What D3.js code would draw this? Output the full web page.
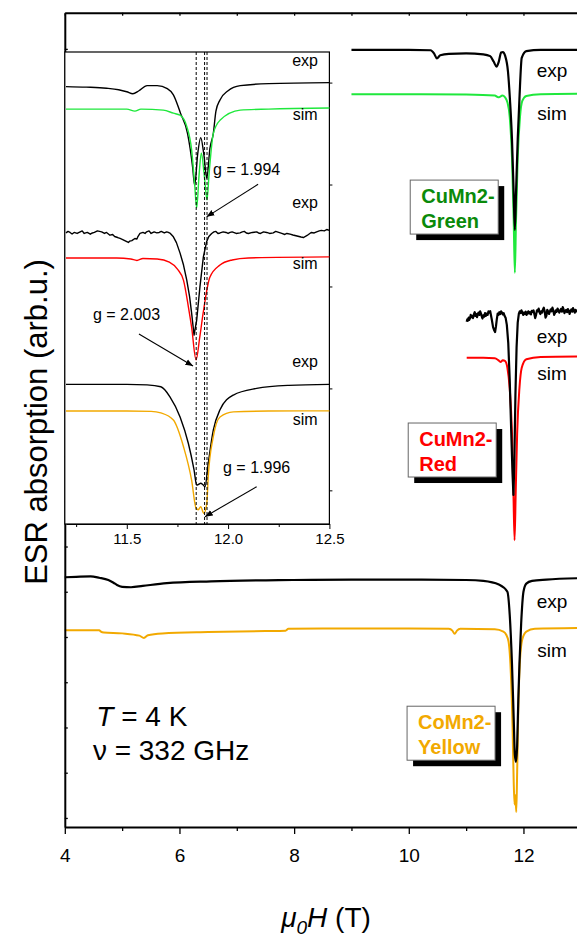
<!DOCTYPE html>
<html lang="en">
  <head>
    <meta charset="utf-8">
    <title>ESR spectra</title>
    <style>
      body { margin: 0; background: #fff; }
      svg text { font-family: Arial, "Liberation Sans", sans-serif; }
    </style>
  </head>
  <body>
    <div id="graph-div"></div>
    <script src="https://d3js.org/d3.v7.min.js"></script>
    <script>

    // ---- main panel data: [field (T), absorption (arb.u.)] ----
    var greenExp = [[9.0,16.98],[10.0,16.98],[10.38,16.97],[10.44,16.9],[10.49,16.79],[10.55,16.86],[10.7,16.89],[11.0,16.9],[11.3,16.88],[11.42,16.84],[11.48,16.72],[11.53,16.61],[11.57,16.72],[11.61,16.92],[11.64,16.93],[11.68,16.85],[11.73,16.5],[11.765,15.87],[11.8,15.0],[11.83,13.8],[11.85,13.0],[11.87,13.8],[11.9,15.0],[11.93,15.9],[11.97,16.8],[12.05,16.95],[12.3,16.98],[13.0,16.98]];
    var greenSim = [[9.0,16.0],[10.0,16.0],[11.0,15.99],[11.5,15.97],[11.56,15.93],[11.59,15.94],[11.63,15.97],[11.68,15.93],[11.72,15.82],[11.76,15.5],[11.8,14.6],[11.83,13.2],[11.85,12.05],[11.87,13.2],[11.9,14.6],[11.94,15.5],[11.98,15.85],[12.05,15.96],[12.3,16.0],[13.0,16.01]];
    var redExp = [[11.01,10.97],[11.02,11.02],[11.03,10.99],[11.045,11.06],[11.055,11.01],[11.07,11.05],[11.08,11.12],[11.095,11.07],[11.11,11.1],[11.12,11.05],[11.135,11.13],[11.15,11.18],[11.16,11.1],[11.175,11.14],[11.19,11.07],[11.2,11.12],[11.215,11.17],[11.23,11.12],[11.245,11.2],[11.26,11.15],[11.27,11.1],[11.285,11.04],[11.3,11.11],[11.315,11.08],[11.33,11.16],[11.345,11.1],[11.36,11.15],[11.375,11.12],[11.39,11.2],[11.405,11.17],[11.42,11.2],[11.435,11.1],[11.45,11.0],[11.47,10.85],[11.49,10.78],[11.505,10.74],[11.52,10.86],[11.535,11.02],[11.55,11.15],[11.565,11.12],[11.58,11.18],[11.595,11.14],[11.61,11.2],[11.625,11.17],[11.64,11.13],[11.655,11.16],[11.67,11.1],[11.69,11.05],[11.71,10.9],[11.735,10.5],[11.76,9.7],[11.79,8.4],[11.81,7.6],[11.825,7.14],[11.84,7.8],[11.86,9.35],[11.88,10.4],[11.9,10.95],[11.92,11.15],[11.935,11.2],[11.95,11.16],[11.965,11.22],[11.98,11.18],[11.995,11.12],[12.01,11.17],[12.025,11.14],[12.04,11.19],[12.055,11.12],[12.07,11.16],[12.085,11.2],[12.1,11.15],[12.115,11.18],[12.13,11.13],[12.145,11.21],[12.16,11.19],[12.175,11.22],[12.19,11.14],[12.205,11.05],[12.22,11.12],[12.235,11.22],[12.25,11.2],[12.265,11.26],[12.28,11.18],[12.295,11.14],[12.31,11.2],[12.325,11.17],[12.34,11.24],[12.355,11.28],[12.37,11.2],[12.385,11.06],[12.4,11.1],[12.415,11.23],[12.43,11.2],[12.445,11.14],[12.46,11.19],[12.475,11.24],[12.49,11.2],[12.505,11.28],[12.52,11.22],[12.535,11.12],[12.55,11.16],[12.565,11.22],[12.58,11.19],[12.595,11.26],[12.61,11.22],[12.625,11.17],[12.64,11.21],[12.655,11.25],[12.67,11.19],[12.685,11.29],[12.7,11.24],[12.715,11.16],[12.73,11.2],[12.745,11.23],[12.76,11.18],[12.775,11.25],[12.79,11.21],[12.805,11.14],[12.82,11.2],[12.835,11.24],[12.85,11.19],[12.865,11.27],[12.88,11.22],[12.895,11.17],[12.91,11.23],[12.925,11.2],[12.94,11.22]];
    var redSim = [[11.01,10.17],[11.3,10.17],[11.5,10.16],[11.56,10.12],[11.6,10.08],[11.64,10.12],[11.68,10.1],[11.72,9.95],[11.76,9.5],[11.8,8.5],[11.825,7.2],[11.845,6.14],[11.865,7.2],[11.89,8.5],[11.93,9.5],[11.97,9.95],[12.05,10.14],[12.3,10.19],[13.0,10.2]];
    var yellowExp = [[4.0,5.32],[4.2,5.33],[4.45,5.34],[4.6,5.31],[4.76,5.26],[4.85,5.2],[4.91,5.15],[5.0,5.11],[5.155,5.1],[5.36,5.13],[5.78,5.19],[6.55,5.23],[7.98,5.26],[9.0,5.27],[10.0,5.27],[11.0,5.26],[11.3,5.24],[11.57,5.16],[11.72,5.0],[11.76,4.5],[11.8,3.4],[11.83,2.2],[11.85,1.4],[11.87,1.24],[11.89,1.6],[11.91,2.6],[11.93,3.4],[11.96,4.3],[12.0,5.0],[12.05,5.18],[12.15,5.24],[12.4,5.27],[13.0,5.3]];
    var yellowSim = [[4.0,4.15],[4.6,4.15],[4.63,4.12],[4.68,4.1],[5.0,4.08],[5.3,4.03],[5.38,3.98],[5.45,4.04],[5.7,4.08],[6.5,4.11],[7.5,4.13],[7.85,4.14],[7.9,4.18],[8.5,4.19],[10.0,4.19],[10.7,4.18],[10.76,4.14],[10.8,4.07],[10.84,4.14],[10.9,4.18],[11.5,4.17],[11.65,4.12],[11.7,4.05],[11.74,3.9],[11.78,3.2],[11.81,2.0],[11.83,0.8],[11.845,0.3],[11.86,0.5],[11.875,0.13],[11.89,1.0],[11.91,2.4],[11.94,3.5],[11.98,3.95],[12.05,4.12],[12.2,4.18],[13.0,4.2]];

    // ---- inset data ----
    var insetGreenExp = [[11.2,3.96],[11.3,3.955],[11.4,3.945],[11.46,3.93],[11.5,3.91],[11.53,3.89],[11.56,3.92],[11.6,3.97],[11.65,3.97],[11.7,3.94],[11.73,3.88],[11.765,3.7],[11.8,3.5],[11.825,3.17],[11.835,2.99],[11.85,3.3],[11.865,3.46],[11.88,3.3],[11.895,3.06],[11.91,3.35],[11.927,3.5],[11.94,3.72],[11.96,3.83],[12.0,3.92],[12.06,3.97],[12.2,3.99],[12.5,4.0]];
    var insetGreenSim = [[11.2,3.74],[11.5,3.74],[11.54,3.72],[11.57,3.74],[11.68,3.73],[11.73,3.7],[11.763,3.68],[11.796,3.57],[11.82,3.34],[11.835,3.0],[11.845,2.77],[11.857,3.1],[11.868,3.31],[11.882,3.1],[11.896,2.85],[11.906,3.1],[11.927,3.5],[11.96,3.63],[12.06,3.73],[12.2,3.74],[12.5,3.75]];
    var insetRedExp = [[11.2,2.526],[11.21,2.54],[11.22,2.53],[11.23,2.515],[11.24,2.53],[11.255,2.52],[11.27,2.536],[11.28,2.545],[11.29,2.52],[11.305,2.53],[11.32,2.513],[11.33,2.525],[11.34,2.53],[11.355,2.545],[11.376,2.536],[11.39,2.52],[11.4,2.53],[11.417,2.503],[11.43,2.51],[11.44,2.49],[11.455,2.48],[11.467,2.471],[11.48,2.46],[11.49,2.45],[11.5,2.44],[11.508,2.432],[11.515,2.445],[11.525,2.45],[11.54,2.471],[11.55,2.465],[11.555,2.49],[11.565,2.52],[11.58,2.53],[11.59,2.52],[11.598,2.536],[11.61,2.545],[11.62,2.52],[11.635,2.535],[11.648,2.526],[11.66,2.53],[11.67,2.54],[11.685,2.525],[11.697,2.536],[11.705,2.53],[11.715,2.52],[11.73,2.487],[11.745,2.43],[11.763,2.327],[11.78,2.21],[11.796,2.062],[11.81,1.9],[11.82,1.739],[11.832,1.523],[11.845,1.67],[11.861,1.996],[11.878,2.291],[11.894,2.438],[11.905,2.49],[11.919,2.52],[11.93,2.535],[11.94,2.54],[11.95,2.52],[11.96,2.525],[11.976,2.536],[11.99,2.53],[12.0,2.52],[12.01,2.53],[12.02,2.535],[12.04,2.52],[12.059,2.526],[12.07,2.535],[12.08,2.54],[12.09,2.525],[12.1,2.52],[12.12,2.53],[12.141,2.536],[12.15,2.525],[12.16,2.52],[12.175,2.535],[12.19,2.53],[12.205,2.52],[12.223,2.526],[12.235,2.54],[12.25,2.53],[12.265,2.52],[12.28,2.51],[12.29,2.52],[12.306,2.513],[12.32,2.505],[12.33,2.5],[12.34,2.495],[12.35,2.49],[12.36,2.485],[12.372,2.48],[12.38,2.49],[12.39,2.5],[12.4,2.515],[12.41,2.53],[12.425,2.525],[12.437,2.536],[12.45,2.545],[12.46,2.55],[12.475,2.545],[12.487,2.559],[12.5,2.55]];
    var insetRedSim = [[11.2,2.28],[11.45,2.28],[11.52,2.27],[11.55,2.255],[11.58,2.275],[11.65,2.27],[11.71,2.24],[11.75,2.17],[11.78,2.06],[11.804,1.8],[11.82,1.6],[11.842,1.28],[11.86,1.5],[11.877,1.74],[11.91,2.09],[11.96,2.21],[12.02,2.26],[12.1,2.28],[12.5,2.29]];
    var insetYellowExp = [[11.2,1.04],[11.5,1.04],[11.6,1.035],[11.668,1.016],[11.713,0.918],[11.763,0.72],[11.804,0.46],[11.832,0.2],[11.845,0.052],[11.855,0.06],[11.865,0.07],[11.876,0.055],[11.886,0.036],[11.902,0.265],[11.927,0.59],[11.96,0.79],[12.026,0.935],[12.141,1.0],[12.3,1.03],[12.5,1.04]];
    var insetYellowSim = [[11.2,0.778],[11.5,0.778],[11.62,0.775],[11.668,0.76],[11.73,0.69],[11.78,0.428],[11.82,0.1],[11.842,-0.176],[11.853,-0.19],[11.865,-0.16],[11.88,-0.225],[11.895,-0.127],[11.902,0.134],[11.927,0.526],[11.96,0.72],[12.026,0.77],[12.2,0.778],[12.5,0.78]];

    // resonance fields for the g values (T)
    var gLines = [11.8426, 11.884, 11.896];

    // tick values
    var xMajor = [4, 6, 8, 10, 12];
    var xMinor = [5, 7, 9, 11];
    var yTicks = d3.range(0, 18);
    var insetXMajor = [11.5, 12.0, 12.5];
    var insetXMinor = [11.25, 11.75, 12.25];
    var insetYTicks = [0, 1, 2, 3, 4];

    var W = 577, H = 939;

    var svg = d3.select("#graph-div")
      .append("svg")
        .attr("width", W)
        .attr("height", H);

    var x = d3.scaleLinear().domain([4, 12.934]).range([64.8, 577]);
    var y = d3.scaleLinear().domain([-0.2, 17.8]).range([827, 12.7]);

    var line = d3.line()
      .x(function(d) { return x(d[0]); })
      .y(function(d) { return y(d[1]); })
      .curve(d3.curveMonotoneX);
    var lineRough = d3.line()
      .x(function(d) { return x(d[0]); })
      .y(function(d) { return y(d[1]); });

    var GREEN = "#1fe83c", RED = "#ff0000", ORANGE = "#f2a900";

    // main curves
    function curve(data, gen, color, w) {
      svg.append("path")
        .datum(data)
        .attr("d", gen)
        .attr("fill", "none")
        .attr("stroke", color)
        .attr("stroke-width", w)
        .attr("stroke-linejoin", "round");
    }
    curve(greenSim, line, GREEN, 2);
    curve(greenExp, line, "#000", 2.2);
    curve(redSim, line, RED, 2);
    curve(redExp, lineRough, "#000", 2.2);
    curve(yellowSim, line, ORANGE, 2);
    curve(yellowExp, line, "#000", 2.2);

    // axes
    var bottom = svg.append("g")
      .attr("transform", "translate(0,827)")
      .call(d3.axisBottom(x).tickValues(xMajor).tickSize(7).tickSizeOuter(0).tickPadding(15));
    svg.append("g")
      .attr("transform", "translate(0,827)")
      .call(d3.axisBottom(x).tickValues(xMinor).tickSize(4).tickFormat("").tickSizeOuter(0))
      .select(".domain").remove();
    bottom.selectAll("text").attr("font-size", 19).attr("font-family", "Arial, 'Liberation Sans', sans-serif");

    svg.append("g")
      .attr("transform", "translate(0,12.7)")
      .call(d3.axisTop(x).tickValues(xMajor.concat(xMinor)).tickSize(-3).tickFormat("").tickSizeOuter(0));

    svg.append("g")
      .attr("transform", "translate(64.8,0)")
      .call(d3.axisLeft(y).tickValues(yTicks).tickSize(-3).tickFormat("").tickSizeOuter(0));

    svg.selectAll(".domain").attr("stroke-width", 2);
    svg.selectAll(".tick line").attr("stroke-width", 1.3);

    // axis titles
    var xt = svg.append("text")
      .attr("x", 326).attr("y", 927)
      .attr("text-anchor", "middle")
      .attr("font-size", 28);
    xt.append("tspan").attr("font-style", "italic").text("\u03bc");
    xt.append("tspan").attr("font-style", "italic").attr("font-size", 19).attr("dy", 7).text("0");
    xt.append("tspan").attr("font-style", "italic").attr("dy", -7).text("H");
    xt.append("tspan").text(" (T)");

    svg.append("text")
      .attr("transform", "translate(47,422) rotate(-90)")
      .attr("text-anchor", "middle")
      .attr("font-size", 31)
      .text("ESR absorption (arb.u.)");

    // exp / sim tags next to main curves
    var mainTags = [["exp", 16.38], ["sim", 15.43], ["exp", 10.5], ["sim", 9.68], ["exp", 4.64], ["sim", 3.56]];
    svg.selectAll(".mtag")
      .data(mainTags)
      .enter().append("text")
        .attr("class", "mtag")
        .attr("x", x(12.5))
        .attr("y", function(d) { return y(d[1]); })
        .attr("text-anchor", "middle")
        .attr("font-size", 19)
        .text(function(d) { return d[0]; });

    // sample boxes
    var samples = [
      {lines: ["CuMn2-", "Green"], color: "#0a8a0a", fx: 10.025, fy: 14.10},
      {lines: ["CuMn2-", "Red"], color: RED, fx: 9.99, fy: 8.73},
      {lines: ["CoMn2-", "Yellow"], color: ORANGE, fx: 9.97, fy: 2.47}
    ];
    samples.forEach(function(s) {
      var bx = x(s.fx), by = y(s.fy), bw = 88, bh = 54;
      svg.append("rect").attr("x", bx + 6).attr("y", by + 6).attr("width", bw).attr("height", bh).attr("fill", "#000");
      svg.append("rect").attr("x", bx).attr("y", by).attr("width", bw).attr("height", bh)
        .attr("fill", "#fff").attr("stroke", "#666").attr("stroke-width", 1);
      s.lines.forEach(function(t, i) {
        svg.append("text")
          .attr("x", bx + 11).attr("y", by + 23 + i * 25)
          .attr("font-size", 20).attr("font-weight", "bold")
          .attr("fill", s.color)
          .text(t);
      });
    });

    // conditions
    var t1 = svg.append("text").attr("x", x(4.55)).attr("y", y(2.03)).attr("font-size", 28);
    t1.append("tspan").attr("font-style", "italic").text("T");
    t1.append("tspan").text(" = 4 K");
    svg.append("text").attr("x", x(4.49)).attr("y", y(1.28)).attr("font-size", 28).text("\u03bd = 332 GHz");

    // ---------------- inset ----------------
    var ix = d3.scaleLinear().domain([11.2, 12.5]).range([66, 329.4]);
    var iy = d3.scaleLinear().domain([-0.33, 4.30]).range([524, 52]);

    var inset = svg.append("g");
    inset.append("rect")
      .attr("x", 64.8).attr("y", 52).attr("width", 329.4 - 64.8).attr("height", 524 - 52)
      .attr("fill", "#fff").attr("stroke", "#000").attr("stroke-width", 1.2);

    var iline = d3.line()
      .x(function(d) { return ix(d[0]); })
      .y(function(d) { return iy(d[1]); })
      .curve(d3.curveMonotoneX);
    var ilineRough = d3.line()
      .x(function(d) { return ix(d[0]); })
      .y(function(d) { return iy(d[1]); });

    function icurve(data, gen, color) {
      inset.append("path")
        .datum(data)
        .attr("d", gen)
        .attr("fill", "none")
        .attr("stroke", color)
        .attr("stroke-width", 1.4)
        .attr("stroke-linejoin", "round");
    }
    icurve(insetGreenExp, iline, "#000");
    icurve(insetGreenSim, iline, GREEN);
    icurve(insetRedExp, ilineRough, "#000");
    icurve(insetRedSim, iline, RED);
    icurve(insetYellowExp, iline, "#000");
    icurve(insetYellowSim, iline, ORANGE);

    inset.selectAll(".gline")
      .data(gLines)
      .enter().append("line")
        .attr("x1", function(d) { return ix(d); })
        .attr("x2", function(d) { return ix(d); })
        .attr("y1", 52).attr("y2", 524)
        .attr("stroke", "#000")
        .attr("stroke-width", 1)
        .attr("stroke-dasharray", "3,2");

    var ib = inset.append("g")
      .attr("transform", "translate(0,524)")
      .call(d3.axisBottom(ix).tickValues(insetXMajor).tickSize(5).tickSizeOuter(0).tickPadding(4).tickFormat(d3.format(".1f")));
    ib.selectAll("text").attr("font-size", 15).attr("font-family", "Arial, 'Liberation Sans', sans-serif");
    ib.select(".domain").attr("stroke-width", 1.2);
    inset.append("g")
      .attr("transform", "translate(0,524)")
      .call(d3.axisBottom(ix).tickValues(insetXMinor).tickSize(3).tickFormat("").tickSizeOuter(0))
      .select(".domain").remove();
    inset.append("g")
      .attr("transform", "translate(329.4,0)")
      .call(d3.axisRight(iy).tickValues(insetYTicks).tickSize(3).tickFormat("").tickSizeOuter(0))
      .select(".domain").remove();

    var insetTags = [["exp", 4.21], ["sim", 3.68], ["exp", 2.82], ["sim", 2.22], ["exp", 1.26], ["sim", 0.69]];
    inset.selectAll(".itag")
      .data(insetTags)
      .enter().append("text")
        .attr("x", ix(12.38))
        .attr("y", function(d) { return iy(d[1]) + 5; })
        .attr("text-anchor", "middle")
        .attr("font-size", 16)
        .text(function(d) { return d[0]; });

    // g-value annotations with arrows
    svg.append("defs").append("marker")
      .attr("id", "arrow")
      .attr("viewBox", "0 0 10 10")
      .attr("refX", 10).attr("refY", 5)
      .attr("markerWidth", 7).attr("markerHeight", 7)
      .attr("orient", "auto")
      .append("path").attr("d", "M0,1 L10,5 L0,9 Z").attr("fill", "#000");

    var gNotes = [
      {text: "g = 1.994", tx: 11.926, ty: 3.09, from: [12.148, 3.003], to: [11.894, 2.683]},
      {text: "g = 2.003", tx: 11.333, ty: 1.67, from: [11.56, 1.533], to: [11.827, 1.219]},
      {text: "g = 1.996", tx: 11.975, ty: 0.17, from: [12.141, 0.036], to: [11.886, -0.258]}
    ];
    gNotes.forEach(function(n) {
      inset.append("text").attr("x", ix(n.tx)).attr("y", iy(n.ty)).attr("font-size", 16).text(n.text);
      inset.append("line")
        .attr("x1", ix(n.from[0])).attr("y1", iy(n.from[1]))
        .attr("x2", ix(n.to[0])).attr("y2", iy(n.to[1]))
        .attr("stroke", "#000").attr("stroke-width", 1.1)
        .attr("marker-end", "url(#arrow)");
    });

    </script>
  </body>
</html>
